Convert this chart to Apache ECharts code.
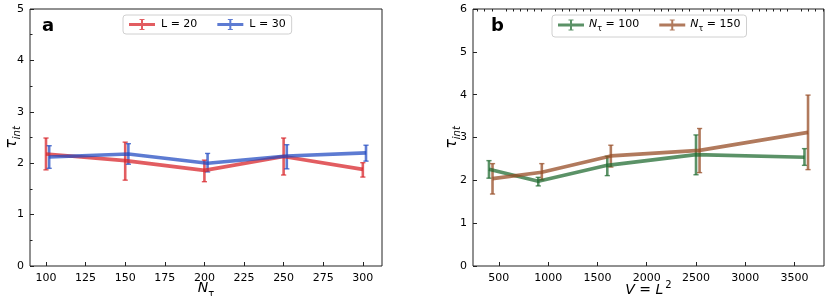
<!DOCTYPE html>
<html>
<head>
<meta charset="utf-8">
<script src="https://cdn.jsdelivr.net/npm/echarts@6/dist/echarts.min.js"></script>
<style>
html,body{margin:0;padding:0;background:#fff;}
#chart{width:831px;height:296px;}
</style>
</head>
<body>
<div id="chart"></div>
<script>
// ---------- data: panel a ----------
const nTau = [100, 150, 200, 250, 300];
const nTauTicks = [100, 125, 150, 175, 200, 225, 250, 275, 300];
const tauL20 = [2.18, 2.05, 1.86, 2.13, 1.88];
const lowL20 = [1.87, 1.67, 1.64, 1.77, 1.73];
const highL20 = [2.49, 2.41, 2.06, 2.49, 2.01];
const tauL30 = [2.12, 2.18, 2.00, 2.14, 2.20];
const lowL30 = [1.90, 1.98, 1.83, 1.89, 2.04];
const highL30 = [2.34, 2.38, 2.19, 2.36, 2.35];
const offsetL30 = 2;

// ---------- data: panel b ----------
const volume = [400, 900, 1600, 2500, 3600];
const volumeTicks = [500, 1000, 1500, 2000, 2500, 3000, 3500];
const tauN100 = [2.26, 1.98, 2.35, 2.60, 2.54];
const lowN100 = [2.05, 1.87, 2.11, 2.13, 2.35];
const highN100 = [2.46, 2.07, 2.56, 3.06, 2.74];
const tauN150 = [2.04, 2.19, 2.57, 2.70, 3.12];
const lowN150 = [1.68, 2.01, 2.31, 2.18, 2.25];
const highN150 = [2.39, 2.39, 2.82, 3.21, 3.99];
const offsetN150 = 36;

const yTicksA = [0, 1, 2, 3, 4, 5];
const yTicksB = [0, 1, 2, 3, 4, 5, 6];

// ---------- styling ----------
const FONT = 'DejaVu Sans';
const C_RED = 'rgba(216,36,42,0.74)';
const C_BLUE = 'rgba(30,72,192,0.72)';
const C_GREEN = 'rgba(28,104,44,0.72)';
const C_BROWN = 'rgba(150,76,36,0.74)';

const xMinA = 89.9, xMaxA = 312.1;
const xMinB = 238, xMaxB = 3798;

// minor ticks for panel b x axis
const minorB = [];
const minorStep = 500 / 7;
for (let k = 0; k * minorStep <= xMaxB; k++) {
  const v = k * minorStep;
  if (v >= xMinB && Math.abs(v / 500 - Math.round(v / 500)) > 1e-6) minorB.push(+v.toFixed(3));
}

const LEG_ICON = 'path://M0,4 L26,4 L26,7 L0,7 Z M12,0 L14,0 L14,11 L12,11 Z M10.5,0 L15.5,0 L15.5,1 L10.5,1 Z M10.5,10 L15.5,10 L15.5,11 L10.5,11 Z';

function pairs(xs, ys, off) { return xs.map((x, i) => [x + off, ys[i]]); }
function errs(xs, lo, hi, off) { return xs.map((x, i) => [x + off, lo[i], hi[i]]); }

function errRender(params, api) {
  const x = api.value(0), lo = api.value(1), hi = api.value(2);
  const pL = api.coord([x, lo]), pH = api.coord([x, hi]);
  const color = api.visual('color');
  const cw = 2.6;
  return {
    type: 'group',
    children: [
      { type: 'line', shape: { x1: pL[0], y1: pL[1], x2: pH[0], y2: pH[1] }, style: { stroke: color, lineWidth: 2.6 } },
      { type: 'line', shape: { x1: pL[0] - cw, y1: pL[1], x2: pL[0] + cw, y2: pL[1] }, style: { stroke: color, lineWidth: 1.4 } },
      { type: 'line', shape: { x1: pH[0] - cw, y1: pH[1], x2: pH[0] + cw, y2: pH[1] }, style: { stroke: color, lineWidth: 1.4 } }
    ]
  };
}

function lineSeries(name, xi, yi, data, color) {
  return {
    name: name, type: 'line', xAxisIndex: xi, yAxisIndex: yi, data: data,
    symbol: 'none', color: color, lineStyle: { width: 3.6, color: color },
    animation: false, z: 2
  };
}
function errSeries(name, xi, yi, data, color) {
  return {
    name: name + ' err', type: 'custom', xAxisIndex: xi, yAxisIndex: yi, data: data,
    renderItem: errRender, itemStyle: { color: color }, encode: { x: 0, y: [1, 2] },
    animation: false, z: 2
  };
}

const tickStyle = { color: '#222', width: 1 };
const labelStyle = { fontSize: 11, color: '#000', fontFamily: FONT };

function yAxisDef(grid, max, minor, ticks, gap) {
  return {
    gridIndex: grid, type: 'value', min: 0, max: max, interval: 1,
    axisLine: { show: false }, splitLine: { show: false },
    axisTick: { show: true, inside: true, length: 4, lineStyle: tickStyle },
    minorTick: { show: minor, splitNumber: 2, length: 2.5, lineStyle: tickStyle },
    axisLabel: Object.assign({ margin: 6, formatter: v => ticks.includes(v) ? String(v) : '' }, labelStyle),
    name: '{t|τ}{s|int}', nameLocation: 'middle', nameGap: gap, nameRotate: 90, nameMoveOverlap: false,
    nameTextStyle: {
      fontFamily: FONT,
      rich: {
        t: { fontSize: 16, fontFamily: FONT, fontStyle: 'italic', lineHeight: 16, verticalAlign: 'top', color: '#000' },
        s: { fontSize: 10, fontFamily: FONT, fontStyle: 'italic', lineHeight: 10, verticalAlign: 'top', padding: [8, 0, 0, 0], color: '#000' }
      }
    }
  };
}

const chart = echarts.init(document.getElementById('chart'), null, { renderer: 'canvas' });

const option = {
  animation: false,
  backgroundColor: '#fff',
  textStyle: { fontFamily: FONT },
  grid: [
    { left: 30, top: 9, width: 352, height: 257, show: true, borderColor: '#222', borderWidth: 1, backgroundColor: 'transparent', containLabel: false, outerBoundsMode: 'none' },
    { left: 473, top: 9, width: 351, height: 257, show: true, borderColor: '#222', borderWidth: 1, backgroundColor: 'transparent', containLabel: false, outerBoundsMode: 'none' }
  ],
  xAxis: [
    {
      gridIndex: 0, type: 'value', min: xMinA, max: xMaxA,
      axisLine: { show: false }, splitLine: { show: false },
      axisTick: { show: true, inside: true, length: 4, lineStyle: tickStyle, customValues: nTauTicks },
      axisLabel: Object.assign({ margin: 7, customValues: nTauTicks, formatter: v => String(v) }, labelStyle),
      name: '{i|N}{s|τ}', nameLocation: 'middle', nameGap: 15, nameMoveOverlap: false,
      nameTextStyle: {
        fontFamily: FONT,
        rich: {
          i: { fontSize: 14, fontFamily: FONT, fontStyle: 'italic', lineHeight: 16, verticalAlign: 'top', color: '#000' },
          s: { fontSize: 10, fontFamily: FONT, lineHeight: 10, verticalAlign: 'top', padding: [8, 0, 0, 0], color: '#000' }
        }
      }
    },
    {
      gridIndex: 1, type: 'value', min: xMinB, max: xMaxB,
      axisLine: { show: false }, splitLine: { show: false },
      axisTick: { show: true, inside: true, length: 4, lineStyle: tickStyle, customValues: volumeTicks },
      axisLabel: Object.assign({ margin: 7, customValues: volumeTicks, formatter: v => String(v) }, labelStyle),
      name: '{i|V}{n| = }{i|L}{p|2}', nameLocation: 'middle', nameGap: 14, nameMoveOverlap: false,
      nameTextStyle: {
        fontFamily: FONT,
        rich: {
          i: { fontSize: 14, fontFamily: FONT, fontStyle: 'italic', lineHeight: 16, verticalAlign: 'top', padding: [3, 0, 0, 0], color: '#000' },
          n: { fontSize: 14, fontFamily: FONT, lineHeight: 16, verticalAlign: 'top', padding: [3, 0, 0, 0], color: '#000' },
          p: { fontSize: 10, fontFamily: FONT, lineHeight: 10, verticalAlign: 'top', padding: [0, 0, 0, 2], color: '#000' }
        }
      }
    },
    {
      gridIndex: 1, type: 'value', min: xMinB, max: xMaxB,
      axisLine: { show: false }, splitLine: { show: false }, axisLabel: { show: false },
      axisTick: { show: true, inside: true, length: 2.5, lineStyle: tickStyle, customValues: minorB }
    }
  ],
  yAxis: [
    yAxisDef(0, 5, true, yTicksA, 10),
    yAxisDef(1, 6, false, yTicksB, 13)
  ],
  legend: [
    {
      left: 123, top: 15, orient: 'horizontal',
      data: [{ name: 'L = 20', icon: LEG_ICON }, { name: 'L = 30', icon: LEG_ICON }],
      itemWidth: 26, itemHeight: 11, itemGap: 20, padding: [4, 6, 4, 6],
      borderColor: '#d0d0d0', borderWidth: 1, borderRadius: 3, backgroundColor: '#fff',
      textStyle: { fontSize: 11, color: '#000', fontFamily: FONT, padding: [0, 0, 0, 1] },
      selectedMode: false
    },
    {
      left: 552, top: 15, orient: 'horizontal',
      data: [{ name: 'N_τ = 100', icon: LEG_ICON }, { name: 'N_τ = 150', icon: LEG_ICON }],
      itemWidth: 26, itemHeight: 11, itemGap: 20, padding: [4, 6, 4, 6],
      borderColor: '#d0d0d0', borderWidth: 1, borderRadius: 3, backgroundColor: '#fff',
      formatter: name => name.replace('N_τ', '{i|N}{s|τ}').replace(/= (\d+)/, '{t|= $1}'),
      textStyle: {
        fontSize: 11, color: '#000', fontFamily: FONT,
        rich: {
          i: { fontSize: 11, fontFamily: FONT, fontStyle: 'italic', lineHeight: 12, verticalAlign: 'top', color: '#000' },
          s: { fontSize: 8, fontFamily: FONT, lineHeight: 8, verticalAlign: 'top', padding: [6, 0, 0, 0], color: '#000' },
          t: { fontSize: 11, fontFamily: FONT, lineHeight: 12, verticalAlign: 'top', color: '#000' }
        }
      },
      selectedMode: false
    }
  ],
  graphic: [
    { type: 'text', left: 42, top: 17, style: { text: 'a', font: 'bold 18px "DejaVu Sans"', fill: '#000' } },
    { type: 'text', left: 491, top: 17, style: { text: 'b', font: 'bold 18px "DejaVu Sans"', fill: '#000' } }
  ],
  series: [
    lineSeries('L = 20', 0, 0, pairs(nTau, tauL20, 0), C_RED),
    errSeries('L = 20', 0, 0, errs(nTau, lowL20, highL20, 0), C_RED),
    lineSeries('L = 30', 0, 0, pairs(nTau, tauL30, offsetL30), C_BLUE),
    errSeries('L = 30', 0, 0, errs(nTau, lowL30, highL30, offsetL30), C_BLUE),
    lineSeries('N_τ = 100', 1, 1, pairs(volume, tauN100, 0), C_GREEN),
    errSeries('N_τ = 100', 1, 1, errs(volume, lowN100, highN100, 0), C_GREEN),
    lineSeries('N_τ = 150', 1, 1, pairs(volume, tauN150, offsetN150), C_BROWN),
    errSeries('N_τ = 150', 1, 1, errs(volume, lowN150, highN150, offsetN150), C_BROWN)
  ]
};
chart.setOption(option);
</script>
</body>
</html>
